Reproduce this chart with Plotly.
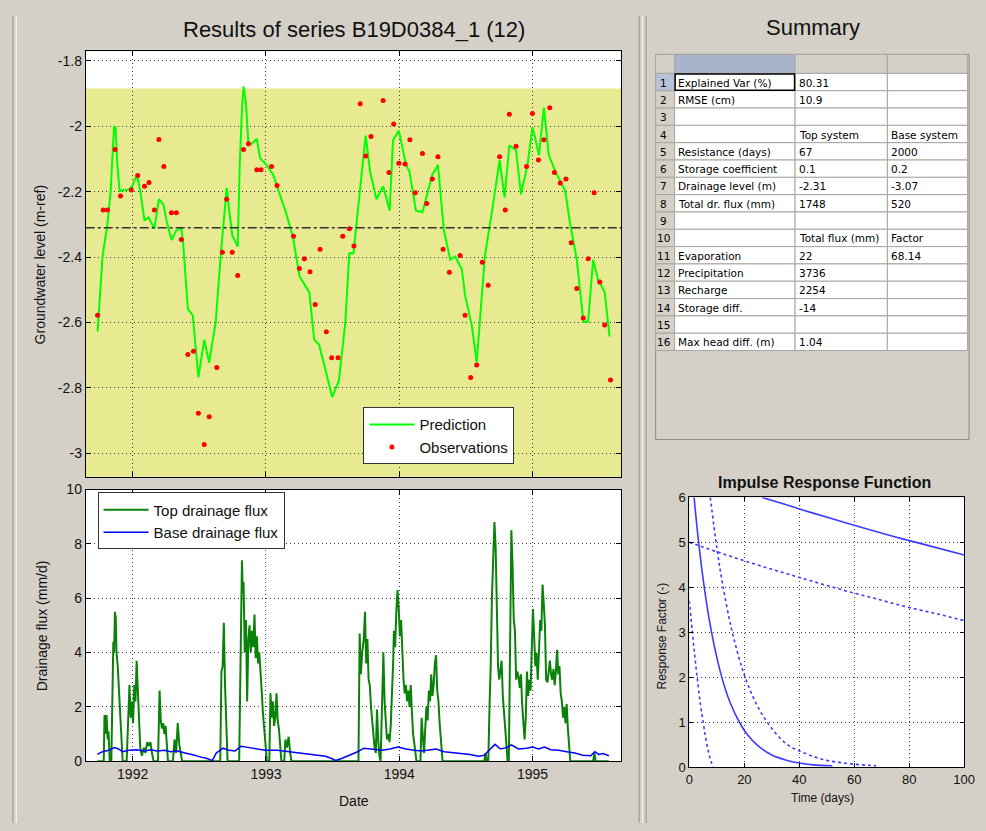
import plotly.graph_objects as go

W, H = 986, 831


def px(x):
    return x / W


def py(y):
    return 1 - y / H


# ---------------- data ----------------
pred_year = [1991.737, 1991.774, 1991.811, 1991.835, 1991.860, 1991.872, 1991.885, 1991.902,
             1991.971, 1991.996, 1992.032, 1992.057, 1992.089, 1992.119, 1992.163, 1992.197,
             1992.230, 1992.254, 1992.291, 1992.328, 1992.365, 1992.377, 1992.414, 1992.451,
             1992.493, 1992.537, 1992.574, 1992.623, 1992.660, 1992.705, 1992.722, 1992.747,
             1992.788, 1992.803, 1992.821, 1992.832, 1992.850, 1992.869, 1992.894, 1992.931,
             1992.956, 1993.005, 1993.054, 1993.153, 1993.202, 1993.251, 1993.325, 1993.362,
             1993.399, 1993.497, 1993.547, 1993.596, 1993.625, 1993.657, 1993.694, 1993.748,
             1993.781, 1993.829, 1993.879, 1993.928, 1993.953, 1993.997, 1994.051, 1994.076,
             1994.125, 1994.174, 1994.248, 1994.290, 1994.335, 1994.383, 1994.420, 1994.470,
             1994.494, 1994.544, 1994.581, 1994.617, 1994.642, 1994.704, 1994.753, 1994.790,
             1994.826, 1994.876, 1994.913, 1994.962, 1994.999, 1995.018, 1995.048, 1995.085,
             1995.122, 1995.171, 1995.245, 1995.282, 1995.332, 1995.381, 1995.417, 1995.454,
             1995.491, 1995.541, 1995.578]
pred_level = [-2.628, -2.398, -2.298, -2.198, -2.003, -2.003, -2.118, -2.198,
              -2.193, -2.183, -2.148, -2.198, -2.288, -2.278, -2.313, -2.223,
              -2.238, -2.288, -2.348, -2.318, -2.313, -2.348, -2.558, -2.578,
              -2.768, -2.653, -2.723, -2.598, -2.398, -2.188, -2.248, -2.333,
              -2.368, -2.118, -1.938, -1.878, -1.928, -2.058, -2.053, -2.038,
              -2.098, -2.118, -2.148, -2.268, -2.338, -2.458, -2.508, -2.653,
              -2.668, -2.828, -2.778, -2.598, -2.388, -2.388, -2.238, -2.028,
              -2.138, -2.223, -2.183, -2.258, -2.043, -2.013, -2.118, -2.138,
              -2.258, -2.263, -2.148, -2.118, -2.318, -2.408, -2.398, -2.438,
              -2.518, -2.608, -2.723, -2.518, -2.398, -2.238, -2.103, -2.218,
              -2.058, -2.073, -2.208, -2.118, -2.003, -2.033, -2.088, -1.943,
              -2.088, -2.138, -2.198, -2.298, -2.408, -2.598, -2.598, -2.408,
              -2.468, -2.508, -2.643]

obs_year = [1991.737, 1991.779, 1991.811, 1991.868, 1991.909, 1991.990, 1992.038, 1992.089,
            1992.123, 1992.163, 1992.197, 1992.234, 1992.291, 1992.328, 1992.365, 1992.414,
            1992.456, 1992.493, 1992.537, 1992.574, 1992.631, 1992.673, 1992.705, 1992.747,
            1992.788, 1992.832, 1992.869, 1992.931, 1992.963, 1993.042, 1993.083, 1993.207,
            1993.251, 1993.288, 1993.330, 1993.369, 1993.406, 1993.453, 1993.493, 1993.541,
            1993.576, 1993.626, 1993.660, 1993.707, 1993.748, 1993.788, 1993.879, 1993.923,
            1993.958, 1993.997, 1994.044, 1994.080, 1994.120, 1994.174, 1994.206, 1994.248,
            1994.290, 1994.329, 1994.376, 1994.457, 1994.494, 1994.536, 1994.581, 1994.623,
            1994.667, 1994.753, 1994.795, 1994.826, 1994.876, 1994.955, 1994.999, 1995.044,
            1995.085, 1995.129, 1995.164, 1995.208, 1995.250, 1995.290, 1995.332, 1995.381,
            1995.417, 1995.462, 1995.504, 1995.541, 1995.585]
obs_level = [-2.578, -2.256, -2.256, -2.071, -2.213, -2.195, -2.150, -2.183,
             -2.172, -2.256, -2.040, -2.123, -2.264, -2.264, -2.346, -2.698,
             -2.688, -2.878, -2.973, -2.888, -2.738, -2.385, -2.223, -2.385,
             -2.456, -2.071, -2.053, -2.133, -2.133, -2.123, -2.181, -2.336,
             -2.435, -2.405, -2.445, -2.545, -2.376, -2.628, -2.708, -2.708,
             -2.336, -2.313, -2.366, -1.931, -2.091, -2.031, -1.921, -2.141,
             -1.993, -2.113, -2.115, -2.041, -2.203, -2.083, -2.236, -2.161,
             -2.093, -2.376, -2.446, -2.395, -2.578, -2.768, -2.730, -2.416,
             -2.486, -2.093, -2.256, -1.963, -2.061, -2.123, -1.961, -2.103,
             -2.041, -1.943, -2.141, -2.173, -2.161, -2.356, -2.496, -2.586,
             -2.405, -2.203, -2.476, -2.608, -2.776]

flux_top_year = [1991.735, 1991.783, 1991.789, 1991.798, 1991.804, 1991.813, 1991.819, 1991.828,
                 1991.840, 1991.849, 1991.855, 1991.861, 1991.867, 1991.873, 1991.879, 1991.888,
                 1991.897, 1991.907, 1991.916, 1991.925, 1991.955, 1991.964, 1991.976, 1991.985,
                 1991.994, 1992.003, 1992.012, 1992.021, 1992.030, 1992.039, 1992.048, 1992.057,
                 1992.069, 1992.084, 1992.096, 1992.109, 1992.121, 1992.133, 1992.145, 1992.157,
                 1992.190, 1992.196, 1992.202, 1992.211, 1992.220, 1992.229, 1992.238, 1992.247,
                 1992.256, 1992.265, 1992.302, 1992.314, 1992.326, 1992.338, 1992.350, 1992.362,
                 1992.371, 1992.657, 1992.666, 1992.675, 1992.684, 1992.693, 1992.702, 1992.712,
                 1992.799, 1992.808, 1992.814, 1992.820, 1992.826, 1992.832, 1992.841, 1992.850,
                 1992.859, 1992.868, 1992.877, 1992.886, 1992.895, 1992.905, 1992.914, 1992.923,
                 1992.932, 1992.941, 1992.950, 1992.959, 1992.968, 1992.977, 1992.986, 1992.995,
                 1993.007, 1993.025, 1993.034, 1993.043, 1993.052, 1993.061, 1993.070, 1993.079,
                 1993.088, 1993.097, 1993.106, 1993.116, 1993.137, 1993.146, 1993.158, 1993.170,
                 1993.182, 1993.191, 1993.694, 1993.703, 1993.712, 1993.722, 1993.734, 1993.743,
                 1993.752, 1993.761, 1993.770, 1993.779, 1993.788, 1993.797, 1993.806, 1993.815,
                 1993.824, 1993.833, 1993.842, 1993.851, 1993.860, 1993.869, 1993.881, 1993.890,
                 1993.899, 1993.908, 1993.918, 1993.927, 1993.936, 1993.945, 1993.954, 1993.960,
                 1993.969, 1993.978, 1993.987, 1993.996, 1994.005, 1994.014, 1994.023, 1994.032,
                 1994.041, 1994.050, 1994.059, 1994.068, 1994.077, 1994.086, 1994.095, 1994.104,
                 1994.117, 1994.129, 1994.159, 1994.168, 1994.177, 1994.186, 1994.195, 1994.204,
                 1994.213, 1994.222, 1994.231, 1994.240, 1994.249, 1994.258, 1994.267, 1994.276,
                 1994.285, 1994.294, 1994.303, 1994.313, 1994.325, 1994.638, 1994.647, 1994.656,
                 1994.668, 1994.677, 1994.686, 1994.695, 1994.704, 1994.714, 1994.723, 1994.732,
                 1994.741, 1994.750, 1994.759, 1994.768, 1994.777, 1994.786, 1994.795, 1994.804,
                 1994.813, 1994.822, 1994.831, 1994.841, 1994.850, 1994.859, 1994.868, 1994.877,
                 1994.886, 1994.895, 1994.904, 1994.913, 1994.922, 1994.931, 1994.940, 1994.949,
                 1994.958, 1994.967, 1994.976, 1994.985, 1994.994, 1995.003, 1995.012, 1995.021,
                 1995.030, 1995.039, 1995.048, 1995.057, 1995.066, 1995.075, 1995.084, 1995.093,
                 1995.102, 1995.112, 1995.121, 1995.130, 1995.139, 1995.148, 1995.157, 1995.166,
                 1995.175, 1995.184, 1995.193, 1995.202, 1995.211, 1995.220, 1995.229, 1995.238,
                 1995.247, 1995.256, 1995.265, 1995.274, 1995.283, 1995.455, 1995.464, 1995.473,
                 1995.573]
flux_top = [0, 0, 1.7, 1.0, 1.7, 0.8, 1.1, 0,
            0, 2.5, 4.4, 4.0, 5.5, 5.3, 4.0, 3.5,
            2.5, 1.8, 1.0, 0, 0, 1.5, 2.8, 1.6,
            2.2, 1.4, 2.8, 2.2, 3.7, 2.6, 1.5, 0.5,
            0.2, 0.5, 0.3, 0.7, 0.6, 0.7, 0.3, 0,
            0, 1.2, 2.6, 1.5, 1.2, 1.4, 1.0, 1.3,
            0.4, 0, 0, 0.8, 0.3, 1.4, 0.6, 0.2,
            0, 0, 3.3, 3.5, 5.1, 2.8, 1.0, 0,
            0, 4.0, 6.0, 7.4, 6.2, 6.6, 4.0, 5.2,
            2.2, 4.5, 5.0, 4.0, 4.8, 4.2, 5.4, 3.8,
            4.6, 3.6, 4.0, 3.0, 2.6, 1.8, 1.2, 0.6,
            0, 0, 2.5, 1.6, 2.2, 1.3, 1.6, 2.5,
            1.5, 1.2, 0.4, 0, 0, 0.8, 0.5, 0.9,
            0.3, 0, 0, 4.7, 3.2, 4.0, 4.5, 5.5,
            3.6, 4.5, 3.0, 2.8, 2.0, 1.4, 1.0, 0.5,
            0.3, 1.9, 0.8, 0.2, 0, 2.0, 4.0, 2.2,
            1.2, 0.8, 1.0, 0.7, 1.3, 2.3, 3.6, 4.8,
            4.2, 5.5, 6.3, 5.6, 4.6, 5.2, 4.0, 3.0,
            2.5, 2.8, 2.2, 2.6, 2.0, 2.8, 1.8, 1.0,
            0.5, 0, 0, 1.6, 0.9, 0.3, 1.2, 2.0,
            1.5, 2.6, 2.2, 3.2, 2.4, 2.8, 3.6, 3.9,
            2.6, 2.2, 1.4, 0.8, 0, 0, 0.3, 0,
            0, 2.0, 3.5, 6.0, 7.8, 8.8, 7.9, 5.5,
            3.5, 3.0, 3.4, 3.7, 2.4, 1.8, 1.4, 0.5,
            0, 0, 4.5, 8.5, 7.2, 5.2, 4.8, 3.0,
            3.3, 3.1, 2.7, 3.2, 2.1, 1.4, 0.8, 1.6,
            3.3, 2.4, 3.0, 2.6, 4.2, 5.6, 4.6, 3.5,
            4.0, 3.0, 4.0, 5.2, 4.8, 6.5, 5.8, 5.0,
            3.0, 2.9, 3.3, 3.7, 3.2, 3.0, 3.4, 2.8,
            3.3, 4.1, 3.2, 3.5, 2.5, 2.2, 1.6, 2.0,
            1.4, 2.1, 1.2, 0.6, 0, 0, 0.3, 0,
            0]

flux_base_year = [1991.735, 1991.774, 1991.819, 1991.843, 1991.864, 1991.894, 1991.925, 1991.970,
                  1992.030, 1992.090, 1992.136, 1992.181, 1992.241, 1992.286, 1992.332, 1992.392,
                  1992.452, 1992.513, 1992.558, 1992.597, 1992.627, 1992.678, 1992.724, 1992.769,
                  1992.814, 1992.874, 1992.935, 1992.995, 1993.085, 1993.176, 1993.266, 1993.357,
                  1993.447, 1993.492, 1993.523, 1993.568, 1993.628, 1993.688, 1993.734, 1993.809,
                  1993.869, 1993.930, 1993.990, 1994.050, 1994.111, 1994.171, 1994.231, 1994.276,
                  1994.337, 1994.412, 1994.472, 1994.533, 1994.593, 1994.638, 1994.683, 1994.719,
                  1994.759, 1994.804, 1994.841, 1994.894, 1994.955, 1995.000, 1995.045, 1995.090,
                  1995.136, 1995.196, 1995.256, 1995.317, 1995.377, 1995.437, 1995.467, 1995.497,
                  1995.528, 1995.573]
flux_base = [0.25, 0.35, 0.40, 0.45, 0.50, 0.45, 0.35, 0.40,
             0.42, 0.38, 0.42, 0.38, 0.40, 0.35, 0.38, 0.30,
             0.24, 0.15, 0.10, 0.02, 0.30, 0.48, 0.40, 0.38,
             0.55, 0.50, 0.45, 0.40, 0.40, 0.35, 0.30, 0.25,
             0.18, 0.10, 0.03, 0.10, 0.22, 0.35, 0.48, 0.45,
             0.40, 0.45, 0.52, 0.45, 0.40, 0.38, 0.42, 0.45,
             0.35, 0.32, 0.30, 0.25, 0.18, 0.22, 0.45, 0.62,
             0.45, 0.50, 0.60, 0.45, 0.48, 0.52, 0.45, 0.52,
             0.42, 0.40, 0.35, 0.30, 0.22, 0.20, 0.35, 0.25,
             0.28, 0.20]

# impulse response functions (days, response factor)
irf_top_t = [1.7, 3, 5, 7, 9, 11, 13, 15, 18, 21, 25, 30, 35, 40, 45, 52]
irf_top = [6.0, 5.20, 4.18, 3.36, 2.71, 2.18, 1.75, 1.41, 1.02, 0.73, 0.47, 0.27, 0.16, 0.09, 0.05, 0.03]
irf_top_lo_t = [0, 1, 2, 3, 4, 5, 6, 7, 8, 8.7]
irf_top_lo = [3.7, 3.05, 2.45, 1.9, 1.4, 1.0, 0.62, 0.32, 0.1, 0.0]
irf_top_hi_t = [7.6, 10, 12, 15, 18, 20, 23, 26, 30, 35, 40, 45, 50, 55, 60, 65, 68]
irf_top_hi = [6.0, 4.87, 4.10, 3.16, 2.44, 2.05, 1.58, 1.22, 0.86, 0.53, 0.36, 0.24, 0.15, 0.10, 0.064, 0.04, 0.03]
irf_base_t = [26.5, 35, 45, 55, 65, 75, 85, 100]
irf_base = [6.0, 5.84, 5.65, 5.47, 5.29, 5.12, 4.96, 4.72]
irf_base_lo_t = [0, 10, 20, 30, 40, 50, 60, 70, 80, 90, 100]
irf_base_lo = [5.0, 4.79, 4.59, 4.40, 4.22, 4.04, 3.87, 3.71, 3.55, 3.41, 3.26]

# summary table
table_rows = [str(i) for i in range(1, 17)]
table_col_a = ["Explained Var (%)", "RMSE (cm)", "", "", "Resistance (days)", "Storage coefficient",
               "Drainage level (m)", "Total dr. flux (mm)", "", "", "Evaporation", "Precipitation",
               "Recharge", "Storage diff.", "", "Max head diff. (m)"]
table_col_b = ["80.31", "10.9", "", "Top system", "67", "0.1", "-2.31", "1748", "",
               "Total flux (mm)", "22", "3736", "2254", "-14", "", "1.04"]
table_col_c = ["", "", "", "Base system", "2000", "0.2", "-3.07", "520", "",
               "Factor", "68.14", "", "", "", "", ""]

top_drainage_level = -2.31
band_top = -1.884

year_ticks = [1992, 1993, 1994, 1995]
level_ticks = [-1.8, -2.0, -2.2, -2.4, -2.6, -2.8, -3.0]
level_tick_text = ["-1.8", "-2", "-2.2", "-2.4", "-2.6", "-2.8", "-3"]
flux_ticks = [0, 2, 4, 6, 8, 10]
irf_x_ticks = [0, 20, 40, 60, 80, 100]
irf_y_ticks = [0, 1, 2, 3, 4, 5, 6]

# ---------------- figure ----------------
FONT = "Liberation Sans"
GRID = "rgba(20,20,20,0.85)"
GRID_DASH = "1px,3px"
fig = go.Figure()

fig.add_trace(go.Scatter(x=pred_year, y=pred_level, mode="lines", name="Prediction",
                         line=dict(color="#00ff00", width=2), xaxis="x", yaxis="y", legend="legend"))
fig.add_trace(go.Scatter(x=obs_year, y=obs_level, mode="markers", name="Observations",
                         marker=dict(color="#ff0000", size=5), xaxis="x", yaxis="y", legend="legend"))
fig.add_trace(go.Scatter(x=flux_top_year, y=flux_top, mode="lines", name="Top drainage flux",
                         line=dict(color="#0a820a", width=2), xaxis="x2", yaxis="y2", legend="legend2"))
fig.add_trace(go.Scatter(x=flux_base_year, y=flux_base, mode="lines", name="Base drainage flux",
                         line=dict(color="#0000ff", width=1.5), xaxis="x2", yaxis="y2", legend="legend2"))

irf_color = "#3c3cff"
for t, v, dash in [(irf_top_t, irf_top, "solid"), (irf_top_lo_t, irf_top_lo, "dot"),
                   (irf_top_hi_t, irf_top_hi, "dot"), (irf_base_t, irf_base, "solid"),
                   (irf_base_lo_t, irf_base_lo, "dot")]:
    fig.add_trace(go.Scatter(x=t, y=v, mode="lines", showlegend=False, line_shape="spline",
                             line=dict(color=irf_color, width=1.6, dash=dash),
                             xaxis="x3", yaxis="y3"))

common_axis = dict(showline=True, linecolor="black", linewidth=1, mirror="ticks",
                   ticks="inside", ticklen=5, tickcolor="black", showgrid=True,
                   gridcolor=GRID, griddash=GRID_DASH, gridwidth=1, zeroline=False,
                   tickfont=dict(family=FONT, size=14, color="#111"), fixedrange=True)

x_lo, x_hi = 1991.648, 1995.667
fig.update_layout(
    width=W, height=H, margin=dict(l=0, r=0, t=0, b=0),
    paper_bgcolor="#d4d0c8", plot_bgcolor="#d4d0c8",
    font=dict(family=FONT, color="#111"),
    xaxis=dict(common_axis, domain=[px(83), px(627)], range=[x_lo, x_hi], anchor="y",
               tickvals=year_ticks, showticklabels=False),
    yaxis=dict(common_axis, domain=[py(478), py(44)], range=[-3.072, -1.77], anchor="x",
               tickvals=level_ticks, ticktext=level_tick_text),
    xaxis2=dict(common_axis, domain=[px(83), px(627)], range=[x_lo, x_hi], anchor="y2",
                tickvals=year_ticks, ticktext=[str(y) for y in year_ticks]),
    yaxis2=dict(common_axis, domain=[py(768), py(491)], range=[0, 10], anchor="x2",
                tickvals=flux_ticks),
    xaxis3=dict(common_axis, domain=[px(696), px(975)], range=[0, 100], anchor="y3",
                tickvals=irf_x_ticks, tickfont=dict(family=FONT, size=13, color="#111"), ticklen=4),
    yaxis3=dict(common_axis, domain=[py(774), py(499)], range=[0, 6], anchor="x3",
                tickvals=irf_y_ticks, tickfont=dict(family=FONT, size=13, color="#111"), ticklen=4),
    xaxis4=dict(domain=[px(660), px(982)], range=[-1.7, 320.3], anchor="y4", visible=False,
                fixedrange=True),
    yaxis4=dict(domain=[py(442), py(45)], range=[394.7, -2.3], anchor="x4", visible=False,
                fixedrange=True),
    legend=dict(x=px(365), y=py(407), xanchor="left", yanchor="top", bgcolor="white",
                bordercolor="#333", borderwidth=1, font=dict(family=FONT, size=15, color="#111"),
                itemwidth=45, tracegroupgap=0),
    legend2=dict(x=px(95), y=py(494), xanchor="left", yanchor="top", bgcolor="white",
                 bordercolor="#333", borderwidth=1, font=dict(family=FONT, size=15, color="#111"),
                 itemwidth=45, tracegroupgap=0),
    showlegend=True,
)

shapes = []
# white plot backgrounds
for ax in ["", "2", "3"]:
    shapes.append(dict(type="rect", xref=f"x{ax} domain", yref=f"y{ax} domain", x0=0, x1=1,
                       y0=0, y1=1, fillcolor="white", line_width=0, layer="below"))
# yellow band in top plot
shapes.append(dict(type="rect", xref="x domain", yref="y", x0=0, x1=1, y0=-3.2, y1=band_top,
                   fillcolor="#e8ea92", line_width=0, layer="below"))
# drainage level line
shapes.append(dict(type="line", xref="x domain", yref="y", x0=0, x1=1, y0=top_drainage_level,
                   y1=top_drainage_level, line=dict(color="#333", width=1.5, dash="dashdot"),
                   layer="above"))

# window frame lines (paper)
for xline, col in [(9, "#a09c94"), (12.5, "#f4f2ee"), (645, "#a09c94"), (648.5, "#f4f2ee"),
                   (652, "#a09c94")]:
    shapes.append(dict(type="line", xref="paper", yref="paper", x0=px(xline), x1=px(xline),
                       y0=py(831), y1=py(8), line=dict(color=col, width=1.2), layer="below"))

# summary table on axis 4 (units: pixels from table top-left)
col_edges = [0, 19.3, 141.6, 235.3, 316.6]
header_h, row_h = 19.4, 17.66
shapes.append(dict(type="rect", xref="x4", yref="y4", x0=-1.7, x1=320.3, y0=-2.3, y1=394.7,
                   fillcolor="#d4d0c8", line_width=0))
shapes.append(dict(type="rect", xref="x4", yref="y4", x0=0, x1=318.3, y0=0, y1=392.7,
                   fillcolor="#d4d0c8", line=dict(color="#8c8a84", width=1)))
header_fill = ["#d4d0c8", "#a9b4cc", "#d4d0c8", "#d4d0c8"]
for c in range(4):
    shapes.append(dict(type="rect", xref="x4", yref="y4", x0=col_edges[c], x1=col_edges[c + 1],
                       y0=0, y1=header_h, fillcolor=header_fill[c],
                       line=dict(color="#a8a6a0", width=1)))
annotations = []
for r in range(16):
    top = header_h + r * row_h
    for c in range(4):
        if c == 0:
            fill = "#b7c2d9" if r == 0 else "#d4d0c8"
        else:
            fill = "white"
        shapes.append(dict(type="rect", xref="x4", yref="y4", x0=col_edges[c], x1=col_edges[c + 1],
                           y0=top, y1=top + row_h, fillcolor=fill,
                           line=dict(color="#a8a6a0", width=1)))
    yc = top + row_h / 2 + 0.5
    annotations.append(dict(xref="x4", yref="y4", x=(col_edges[0] + col_edges[1]) / 2 - 1.5, y=yc,
                            text=table_rows[r], showarrow=False, xanchor="center", yanchor="middle",
                            font=dict(family="DejaVu Sans", size=10.5, color="black")))
    for c, col in [(1, table_col_a), (2, table_col_b), (3, table_col_c)]:
        if col[r]:
            annotations.append(dict(xref="x4", yref="y4", x=col_edges[c] + 1.5, y=yc, text=col[r],
                                    showarrow=False, xanchor="left", yanchor="middle",
                                    font=dict(family="DejaVu Sans", size=10.5, color="black")))
# selected cell outline
shapes.append(dict(type="rect", xref="x4", yref="y4", x0=col_edges[1] + 0.5, x1=col_edges[2] - 0.5,
                   y0=header_h + 0.5, y1=header_h + row_h - 0.5, fillcolor="rgba(0,0,0,0)",
                   line=dict(color="black", width=1.5)))


def label(x, y, text, size, angle=0):
    return dict(xref="paper", yref="paper", x=px(x), y=py(y), text=text, showarrow=False,
                xanchor="center", yanchor="middle", textangle=angle,
                font=dict(family=FONT, size=size, color="#111"))


annotations += [
    label(355, 22, "Results of series B19D0384_1 (12)", 22),
    label(821, 20, "Summary", 22),
    label(37, 261, "Groundwater level (m-ref)", 14, -90),
    label(38, 630, "Drainage flux (mm/d)", 14, -90),
    label(355, 809, "Date", 14),
    label(833, 484, "<b>Impulse Response Function</b>", 16),
    label(668, 640, "Response Factor (-)", 12, -90),
    label(831, 806, "Time (days)", 12),
]

fig.update_layout(shapes=shapes, annotations=annotations)
fig.write_html("out.html", config={"displayModeBar": False},
               post_script="document.body.style.margin='0px';document.body.style.overflow='hidden';")
